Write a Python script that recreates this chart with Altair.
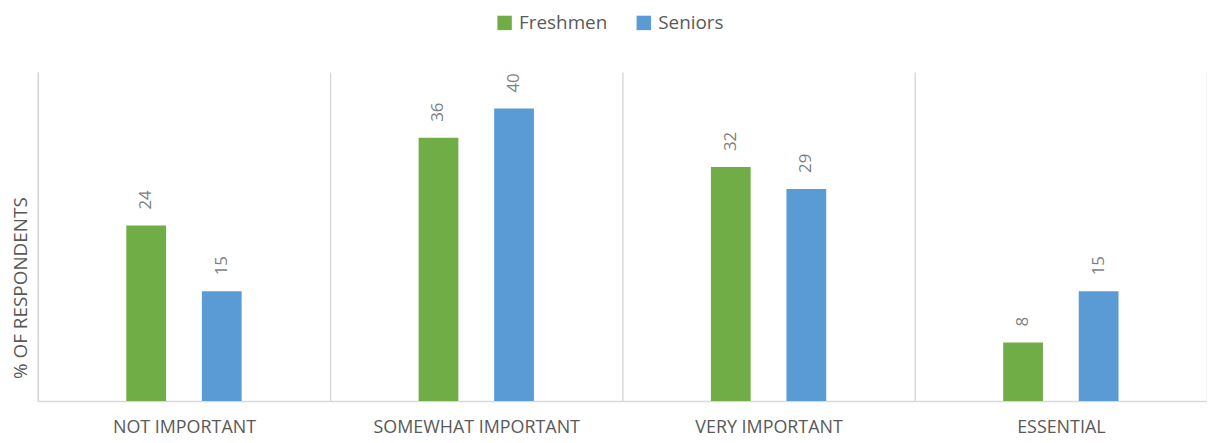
import altair as alt
import pandas as pd

categories = ["NOT IMPORTANT", "SOMEWHAT IMPORTANT", "VERY IMPORTANT", "ESSENTIAL"]
series = ["Freshmen", "Seniors"]
freshmen = [24, 36, 32, 8]
seniors = [15, 40, 29, 15]

rows = []
for c, f, s in zip(categories, freshmen, seniors):
    rows.append({"cat": c, "group": "Freshmen", "value": f})
    rows.append({"cat": c, "group": "Seniors", "value": s})
df = pd.DataFrame(rows)

FONT = "Open Sans"
W, H = 1176, 331

xscale = alt.Scale(domain=categories, paddingInner=0, paddingOuter=0)
xoff = alt.Scale(domain=series, range=[13, 281], paddingInner=0.4737, paddingOuter=1)
yscale = alt.Scale(domain=[0, 45], nice=False)
color = alt.Color(
    "group:N",
    scale=alt.Scale(domain=series, range=["#70ad47", "#5b9bd5"]),
    legend=alt.Legend(
        title=None, orient="none", direction="horizontal",
        legendX=460, legendY=-59, symbolType="square", symbolSize=210,
        symbolStrokeWidth=0, labelFont=FONT, labelFontSize=19,
        labelColor="#595959", columnPadding=27, labelOffset=5,
    ),
)

bars = alt.Chart(df).mark_bar().encode(
    x=alt.X("cat:N", scale=xscale, sort=categories,
            axis=alt.Axis(title=None, labelAngle=0, labelFont=FONT, labelFontSize=18,
                          labelColor="#595959", ticks=False, domainColor="#d9d9d9",
                          domainWidth=1.5, labelPadding=18, labelLimit=0,
                          grid=True, tickBand="extent", gridColor="#d9d9d9",
                          gridWidth=1.5)),
    xOffset=alt.XOffset("group:N", scale=xoff, sort=series),
    y=alt.Y("value:Q", scale=yscale,
            axis=alt.Axis(title="% OF RESPONDENTS", labels=False, ticks=False, grid=False,
                          domainColor="#d9d9d9", domainWidth=1.5,
                          titleFont=FONT, titleFontSize=19, titleFontWeight="normal",
                          titleColor="#595959", titleAngle=270, titleX=-17, titleY=217,
                          titleAlign="center", titleBaseline="middle")),
    color=color,
)

labels = alt.Chart(df).mark_text(
    angle=270, align="left", baseline="middle", dx=16,
    font=FONT, fontSize=17, color="#7f7f7f",
).encode(
    x=alt.X("cat:N", scale=xscale, sort=categories),
    xOffset=alt.XOffset("group:N", scale=xoff, sort=series),
    y=alt.Y("value:Q", scale=yscale),
    text=alt.Text("value:Q"),
)

chart = alt.layer(bars, labels).properties(
    width=W, height=H, padding={"left": 4, "top": 4, "right": 0, "bottom": 0}
).configure_view(stroke=None)

chart.save("out.html", embed_options={"renderer": "svg", "actions": False})
